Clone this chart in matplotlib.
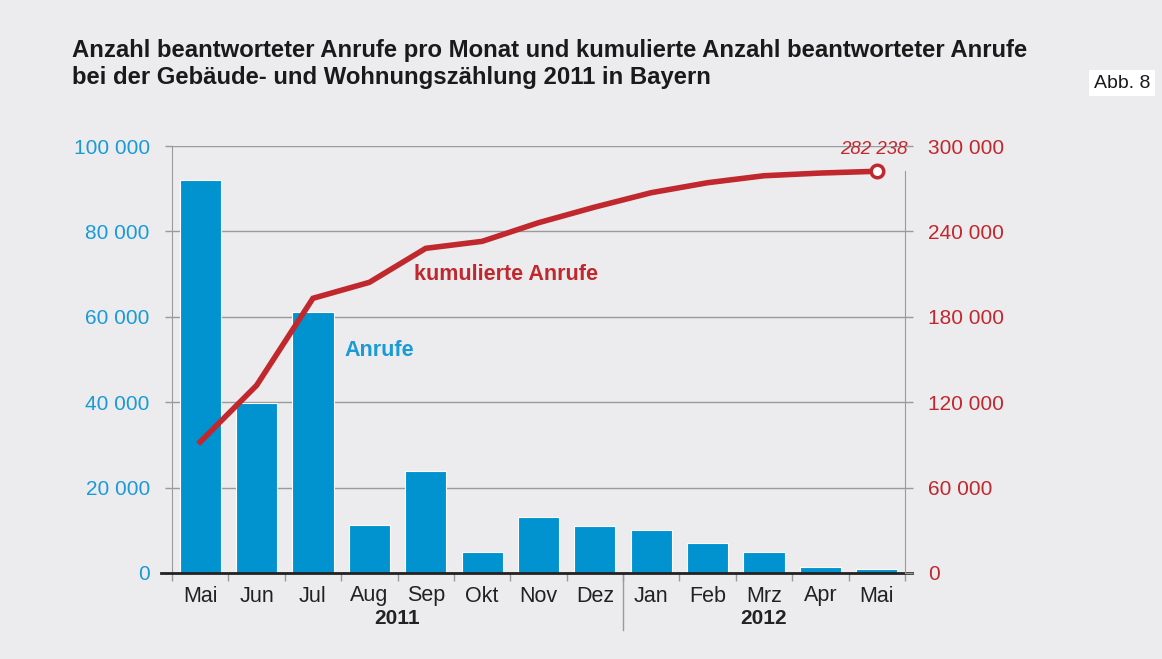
import matplotlib.pyplot as plt
from matplotlib.ticker import FuncFormatter

plt.rcParams['font.family'] = ['Liberation Sans', 'DejaVu Sans']

months = ['Mai', 'Jun', 'Jul', 'Aug', 'Sep', 'Okt', 'Nov', 'Dez',
          'Jan', 'Feb', 'Mrz', 'Apr', 'Mai']
years = ['2011', '2012']
anrufe = [92100, 39700, 61200, 11200, 23900, 4900, 13100, 11000,
          10100, 7000, 4900, 1400, 1000]
kumuliert = [92100, 131800, 193000, 204200, 228100, 233000, 246100,
             257100, 267200, 274200, 279100, 281000, 282238]

BG = '#ececee'
BLUE = '#0093d0'
BLUE_TXT = '#1a9ad7'
RED = '#c0282d'
GRID = '#9a9a9a'


def thousands(v, pos):
    return f'{int(v):,}'.replace(',', ' ')


def main():
    fig = plt.figure(figsize=(11.62, 6.59), dpi=100, facecolor=BG)
    ax = fig.add_axes([172 / 1162, 1 - 573 / 659, 733 / 1162, 427 / 659])
    ax.set_facecolor(BG)
    x = list(range(len(months)))

    ax.bar(x, anrufe, width=0.73, color=BLUE, edgecolor='white',
           linewidth=0.8, zorder=2)
    ax.set_xlim(-0.5, len(months) - 0.5)
    ax.set_ylim(0, 100000)
    ax.set_yticks(range(0, 100001, 20000))
    ax.yaxis.set_major_formatter(FuncFormatter(thousands))
    ax.tick_params(axis='y', colors=GRID, labelcolor=BLUE_TXT, labelsize=15,
                   length=5, width=1, pad=11)
    ax.grid(axis='y', color=GRID, linewidth=1, zorder=0)
    ax.set_axisbelow(True)

    ax.set_xticks(x)
    ax.set_xticklabels(months, fontsize=15.5, color='#222222')
    ax.tick_params(axis='x', which='major', length=0, pad=9)
    ax.set_xticks([i - 0.5 for i in range(len(months) + 1)], minor=True)
    ax.tick_params(axis='x', which='minor', length=6, color=GRID, width=1)

    for s in ['top', 'right']:
        ax.spines[s].set_visible(False)
    ax.spines['left'].set_color(GRID)
    ax.spines['bottom'].set_visible(False)
    # dark baseline
    ax.plot([-0.015, 1.01], [0, 0], transform=ax.transAxes, color='#222222',
            linewidth=2, clip_on=False, zorder=5)
    # year separator
    ax.plot([7.5, 7.5], [0, -0.133], transform=ax.get_xaxis_transform(),
            color=GRID, linewidth=1, clip_on=False)
    ax.text(3.5, -0.107, years[0], transform=ax.get_xaxis_transform(),
            ha='center', va='center', fontsize=15, fontweight='bold',
            color='#222222')
    ax.text(10.0, -0.107, years[1], transform=ax.get_xaxis_transform(),
            ha='center', va='center', fontsize=15, fontweight='bold',
            color='#222222')

    ax2 = ax.twinx()
    ax2.plot(x, kumuliert, color=RED, linewidth=4, solid_joinstyle='miter',
             zorder=3)
    ax2.plot(x[-1], kumuliert[-1], marker='o', markersize=9,
             markerfacecolor='white', markeredgecolor=RED,
             markeredgewidth=2.5, zorder=4)
    ax2.set_ylim(0, 300000)
    ax2.set_yticks(range(0, 300001, 60000))
    ax2.yaxis.set_major_formatter(FuncFormatter(thousands))
    ax2.tick_params(axis='y', colors=GRID, labelcolor=RED, labelsize=15,
                    length=5.5, width=1, pad=11)
    for s in ['top', 'left', 'bottom']:
        ax2.spines[s].set_visible(False)
    ax2.spines['right'].set_color(GRID)
    ax2.spines['right'].set_bounds(0, 282238)

    ax2.text(x[-1] - 0.05, kumuliert[-1] + 9000, thousands(kumuliert[-1], 0),
             ha='center', va='bottom', fontsize=13.5, style='italic', color=RED)
    ax2.text(3.8, 210000, 'kumulierte Anrufe', fontsize=15.5,
             fontweight='bold', color=RED, va='center')
    ax.text(2.55, 52000, 'Anrufe', fontsize=15.5, fontweight='bold',
            color=BLUE_TXT, va='center')

    fig.text(72 / 1162, 1 - 39 / 659,
             'Anzahl beantworteter Anrufe pro Monat und kumulierte Anzahl '
             'beantworteter Anrufe\nbei der Gebäude- und Wohnungszählung '
             '2011 in Bayern',
             fontsize=17.2, fontweight='bold', color='#1a1a1a', va='top',
             linespacing=1.2)
    fig.text(1150 / 1162, 1 - 83 / 659, 'Abb. 8', fontsize=14,
             ha='right', va='center', color='#1a1a1a',
             bbox=dict(facecolor='white', edgecolor='none', pad=3.5))

    plt.savefig('out.png', dpi=100, facecolor=BG)


if __name__ == '__main__':
    main()
